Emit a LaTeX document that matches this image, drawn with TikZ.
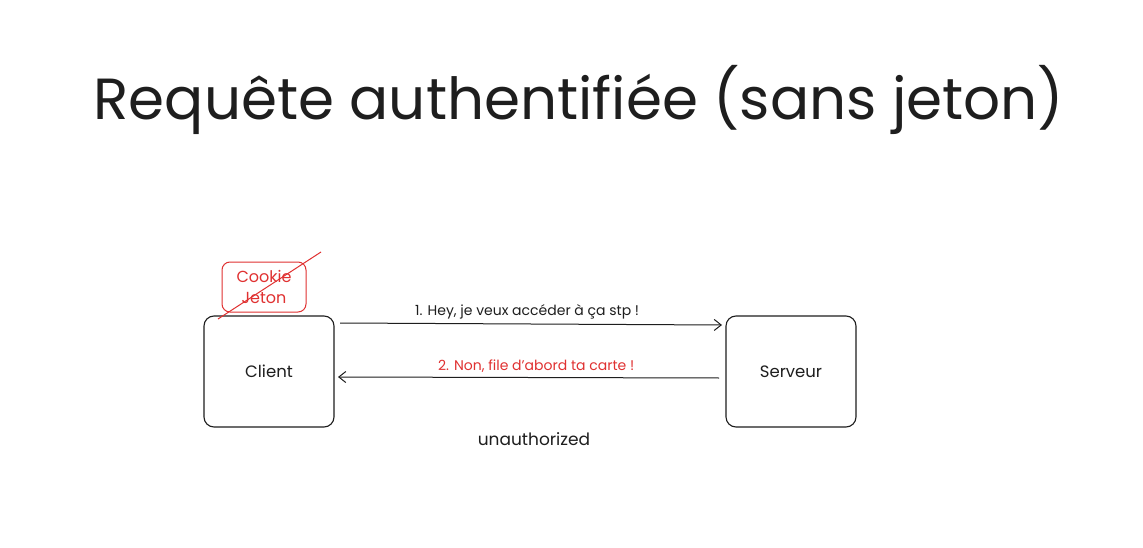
\documentclass[tikz,border=0pt]{standalone}
\usepackage{fontspec}
\setmainfont{Poppins}
\usetikzlibrary{arrows.meta}
\definecolor{ink}{HTML}{1E1E1E}
\definecolor{exred}{HTML}{E03131}
\begin{document}
\begin{tikzpicture}[x=1pt,y=-1pt,
  box/.style={draw=ink,line width=1.1pt,rounded corners=10pt,minimum width=130pt,minimum height=111pt,font=\fontsize{16.5}{20}\selectfont,text=ink},
  tok/.style={draw=exred,line width=1pt,rounded corners=8pt,minimum width=84pt,minimum height=50pt,align=center,font=\fontsize{16}{21}\selectfont,text=exred},
  msg/.style={draw=ink,line width=1pt,-{Straight Barb[length=7pt,width=11pt]}},
  lbl/.style={font=\fontsize{14}{16}\selectfont,text=ink}]
\useasboundingbox (0,0) rectangle (1143,548);
\fill[white] (0,0) rectangle (1143,548);
\node[font=\fontsize{58}{64}\selectfont,text=ink] (title) at (579,100) {Requête authentifiée (sans jeton)};
\node[box] (client) at (269,371.5) {Client};
\node[box] (serveur) at (791,371.5) {Serveur};
\node[tok] (tok) at (264,287) {Cookie\\Jeton};
\coordinate (s1) at (218,319);
\coordinate (s2) at (321,252);
\draw[exred,line width=1pt] (s1) -- (s2);
\coordinate (a1s) at (340,323);
\coordinate (a1e) at (722,325);
\draw[msg] (a1s) -- node[lbl,above=1pt,pos=0.49] (l1) {1. Hey, je veux accéder à ça stp !} (a1e);
\coordinate (a2s) at (719,378);
\coordinate (a2e) at (338,377);
\draw[msg] (a2s) -- node[lbl,above=1pt,pos=0.48,text=exred] (l2) {2. Non, file d'abord ta carte !} (a2e);
\node[font=\fontsize{17}{20}\selectfont,text=ink] (unauth) at (534,439) {unauthorized};
\end{tikzpicture}
\end{document}
